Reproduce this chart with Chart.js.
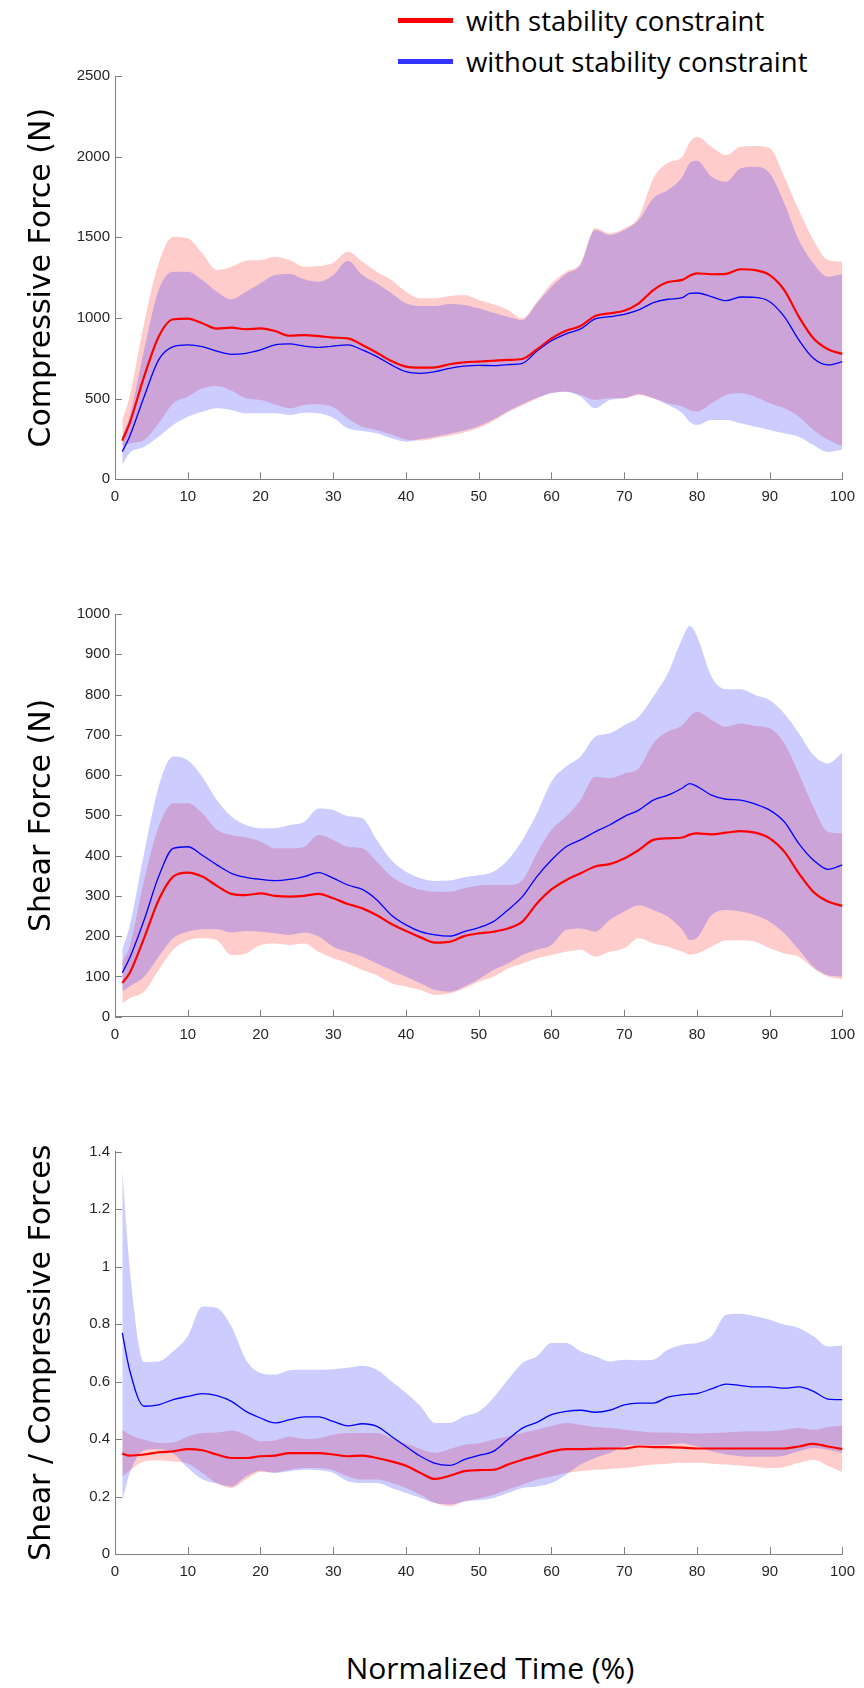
<!DOCTYPE html>
<html>
<head>
<meta charset="utf-8">
<script src="https://cdn.jsdelivr.net/npm/chart.js@4.4.1/dist/chart.umd.min.js"></script>
<style>
  body { margin: 0; background: #fff; width: 864px; height: 1688px; position: relative; overflow: hidden; }
  canvas { position: absolute; left: 0; }
  .legend-row { position: absolute; left: 398px; height: 34px; display: flex; align-items: center; font-family: "Open Sans", sans-serif; font-size: 27.5px; color: #000; white-space: nowrap; }
  .legend-row span.swatch { display: inline-block; width: 55px; height: 5px; margin-right: 13px; }
  #xlabel { position: absolute; left: 240px; width: 500px; top: 1646px; text-align: center; font-family: "Open Sans", sans-serif; font-size: 30px; line-height: 44px; color: #000; }
</style>
</head>
<body>
<div class="legend-row" style="top:3px"><span class="swatch" style="background:#ff0000"></span>with stability constraint</div>
<div class="legend-row" style="top:44px"><span class="swatch" style="background:#3333ff"></span>without stability constraint</div>
<canvas id="c1" width="864" height="520" style="top:0px"></canvas>
<canvas id="c2" width="864" height="500" style="top:560px"></canvas>
<canvas id="c3" width="864" height="500" style="top:1100px"></canvas>
<div id="xlabel">Normalized Time (%)</div>
<script>
// normalized time (%) sample points
const TIME = [1, 2, 4, 6, 8, 10, 12, 14, 16, 18, 20, 22, 24, 26, 28, 30, 32, 34, 36, 38, 40,
  42, 44, 46, 48, 50, 52, 54, 56, 58, 60, 62, 64, 66, 68, 70, 72, 74, 76, 78, 79, 80,
  82, 84, 86, 88, 90, 92, 94, 96, 98, 100];

const X_TICKS = [0, 10, 20, 30, 40, 50, 60, 70, 80, 90, 100];

// compressive force (N)
const COMP_WITH_MEAN = [240, 347, 636, 884, 992, 996, 967, 934, 940, 930, 936, 919, 890, 894, 888, 878, 874, 833, 785, 733, 698,
  692, 694, 713, 725, 730, 735, 740, 746, 805, 874, 921, 950, 1012, 1029, 1045, 1091, 1173, 1223, 1236, 1262, 1277,
  1271, 1273, 1302, 1297, 1266, 1173, 1008, 874, 806, 777];
const COMP_WITH_HI = [368, 512, 967, 1339, 1504, 1494, 1401, 1297, 1318, 1355, 1359, 1380, 1359, 1318, 1322, 1343, 1411, 1349, 1287, 1235, 1163,
  1122, 1122, 1136, 1142, 1111, 1085, 1050, 998, 1101, 1215, 1287, 1339, 1556, 1525, 1556, 1628, 1866, 1963, 2000, 2090, 2124,
  2062, 2010, 2062, 2066, 2052, 1876, 1669, 1483, 1359, 1349];
const COMP_WITH_LO = [202, 223, 244, 347, 471, 512, 564, 579, 550, 502, 492, 465, 440, 461, 465, 446, 378, 326, 306, 278, 246,
  240, 255, 270, 290, 318, 362, 414, 458, 500, 537, 543, 523, 492, 502, 502, 523, 502, 471, 450, 430, 419,
  471, 523, 533, 512, 471, 440, 388, 306, 245, 205];
const COMP_WITHOUT_MEAN = [171, 264, 512, 740, 822, 833, 822, 795, 775, 781, 802, 833, 839, 826, 818, 826, 833, 802, 760, 709, 667,
  657, 667, 688, 702, 706, 705, 711, 719, 795, 859, 901, 932, 994, 1008, 1023, 1050, 1095, 1116, 1126, 1152, 1155,
  1132, 1107, 1130, 1128, 1101, 1008, 864, 750, 709, 729];
const COMP_WITHOUT_HI = [270, 388, 802, 1173, 1287, 1287, 1235, 1163, 1116, 1163, 1215, 1266, 1273, 1240, 1225, 1266, 1355, 1266, 1215, 1153, 1091,
  1074, 1074, 1087, 1081, 1060, 1033, 1008, 988, 1091, 1194, 1273, 1330, 1545, 1514, 1545, 1607, 1742, 1793, 1876, 1960, 1975,
  1876, 1845, 1928, 1938, 1897, 1711, 1483, 1339, 1256, 1273];
const COMP_WITHOUT_LO = [89, 161, 202, 264, 337, 388, 419, 440, 430, 409, 409, 409, 399, 413, 409, 380, 316, 300, 285, 254, 233,
  250, 264, 283, 303, 330, 370, 422, 465, 505, 533, 543, 512, 440, 492, 502, 529, 502, 461, 409, 355, 337,
  368, 368, 347, 326, 306, 285, 264, 213, 170, 185];
const COMP_TICKS = [0, 500, 1000, 1500, 2000, 2500];

// shear force (N)
const SHEAR_WITH_MEAN = [84, 108, 195, 290, 348, 358, 348, 325, 305, 302, 306, 300, 298, 300, 305, 294, 280, 269, 252, 230, 213,
  197, 184, 186, 200, 207, 211, 219, 236, 281, 316, 339, 356, 373, 379, 393, 414, 439, 443, 445, 452, 455,
  453, 457, 461, 457, 443, 410, 356, 310, 286, 275];
const SHEAR_WITH_HI = [137, 174, 339, 472, 530, 530, 505, 464, 451, 445, 435, 418, 418, 422, 451, 439, 422, 418, 385, 348, 327,
  315, 310, 310, 319, 326, 327, 327, 339, 406, 464, 497, 538, 596, 592, 604, 617, 679, 708, 724, 745, 757,
  737, 720, 728, 722, 716, 679, 604, 521, 459, 455];
const SHEAR_WITH_LO = [33, 46, 62, 116, 166, 190, 195, 190, 153, 157, 178, 182, 178, 182, 161, 145, 132, 116, 103, 83, 75,
  66, 54, 58, 70, 87, 99, 120, 132, 145, 153, 161, 166, 149, 161, 170, 195, 182, 174, 161, 154, 157,
  174, 190, 190, 186, 170, 157, 149, 120, 100, 93];
const SHEAR_WITHOUT_MEAN = [109, 145, 240, 348, 418, 422, 401, 377, 356, 346, 341, 338, 341, 348, 358, 344, 327, 316, 290, 252, 228,
  211, 203, 200, 211, 221, 236, 265, 298, 348, 389, 422, 439, 459, 476, 497, 513, 538, 550, 568, 579, 572,
  550, 540, 538, 528, 513, 484, 430, 389, 366, 377];
const SHEAR_WITHOUT_HI = [166, 224, 406, 571, 646, 637, 596, 538, 497, 476, 468, 468, 476, 484, 517, 513, 498, 493, 439, 389, 360,
  344, 337, 338, 346, 351, 360, 389, 439, 505, 584, 621, 646, 695, 704, 724, 745, 795, 853, 940, 970, 945,
  844, 813, 813, 799, 786, 753, 704, 650, 629, 656];
const SHEAR_WITHOUT_LO = [62, 75, 99, 149, 195, 211, 217, 217, 209, 213, 211, 207, 203, 209, 199, 174, 161, 149, 132, 116, 99,
  83, 66, 62, 75, 93, 116, 132, 153, 166, 178, 215, 219, 211, 240, 261, 277, 265, 248, 215, 190, 196,
  252, 265, 261, 252, 236, 207, 166, 124, 103, 99];
const SHEAR_TICKS = [0, 100, 200, 300, 400, 500, 600, 700, 800, 900, 1000];

// shear / compressive ratio
const RATIO_WITH_MEAN = [0.349, 0.342, 0.346, 0.354, 0.357, 0.365, 0.361, 0.346, 0.334, 0.334, 0.340, 0.342, 0.351, 0.351, 0.351, 0.346, 0.340, 0.342, 0.334, 0.322, 0.307,
  0.282, 0.261, 0.272, 0.288, 0.292, 0.293, 0.311, 0.328, 0.342, 0.357, 0.365, 0.365, 0.366, 0.367, 0.367, 0.374, 0.372, 0.372, 0.370, 0.368, 0.367,
  0.367, 0.367, 0.367, 0.367, 0.367, 0.367, 0.374, 0.383, 0.374, 0.365];
const RATIO_WITH_HI = [0.432, 0.415, 0.398, 0.386, 0.388, 0.409, 0.421, 0.423, 0.430, 0.415, 0.392, 0.395, 0.409, 0.400, 0.403, 0.415, 0.421, 0.421, 0.421, 0.403, 0.384,
  0.365, 0.351, 0.365, 0.380, 0.385, 0.398, 0.409, 0.421, 0.432, 0.446, 0.456, 0.450, 0.442, 0.438, 0.432, 0.427, 0.423, 0.423, 0.421, 0.420, 0.419,
  0.421, 0.423, 0.426, 0.427, 0.427, 0.432, 0.438, 0.432, 0.442, 0.446];
const RATIO_WITH_LO = [0.270, 0.290, 0.322, 0.326, 0.322, 0.315, 0.282, 0.247, 0.230, 0.259, 0.285, 0.284, 0.293, 0.299, 0.299, 0.291, 0.270, 0.259, 0.259, 0.247, 0.230,
  0.206, 0.177, 0.166, 0.183, 0.193, 0.206, 0.224, 0.241, 0.259, 0.270, 0.282, 0.288, 0.293, 0.296, 0.299, 0.305, 0.311, 0.314, 0.317, 0.317, 0.317,
  0.314, 0.311, 0.307, 0.303, 0.299, 0.303, 0.317, 0.328, 0.307, 0.284];
const RATIO_WITHOUT_MEAN = [0.769, 0.641, 0.514, 0.519, 0.537, 0.548, 0.558, 0.551, 0.531, 0.496, 0.473, 0.456, 0.467, 0.477, 0.477, 0.461, 0.446, 0.453, 0.444, 0.409, 0.374,
  0.340, 0.315, 0.308, 0.328, 0.343, 0.357, 0.398, 0.438, 0.458, 0.485, 0.496, 0.500, 0.493, 0.500, 0.519, 0.525, 0.525, 0.546, 0.554, 0.556, 0.558,
  0.574, 0.591, 0.586, 0.581, 0.581, 0.577, 0.581, 0.566, 0.539, 0.537];
const RATIO_WITHOUT_HI = [1.337, 1.000, 0.668, 0.670, 0.705, 0.757, 0.861, 0.856, 0.792, 0.676, 0.630, 0.624, 0.639, 0.641, 0.641, 0.643, 0.648, 0.655, 0.641, 0.601, 0.560,
  0.514, 0.456, 0.456, 0.479, 0.496, 0.543, 0.606, 0.664, 0.688, 0.734, 0.734, 0.705, 0.688, 0.670, 0.676, 0.674, 0.676, 0.711, 0.728, 0.731, 0.734,
  0.757, 0.832, 0.836, 0.827, 0.815, 0.798, 0.786, 0.757, 0.722, 0.725];
const RATIO_WITHOUT_LO = [0.183, 0.280, 0.360, 0.365, 0.350, 0.300, 0.260, 0.245, 0.235, 0.270, 0.290, 0.282, 0.288, 0.293, 0.291, 0.282, 0.253, 0.247, 0.247, 0.230, 0.212,
  0.195, 0.177, 0.172, 0.183, 0.187, 0.195, 0.212, 0.230, 0.235, 0.247, 0.276, 0.311, 0.334, 0.351, 0.374, 0.380, 0.377, 0.380, 0.385, 0.380, 0.375,
  0.357, 0.346, 0.340, 0.338, 0.338, 0.342, 0.357, 0.369, 0.363, 0.351];
const RATIO_TICKS = [0, 0.2, 0.4, 0.6, 0.8, 1, 1.2, 1.4];
const RATIO_TICK_LABELS = ['0', '0.2', '0.4', '0.6', '0.8', '1', '1.2', '1.4'];

const AXIS_COLOR = '#808080';
const TEXT_COLOR = '#262626';

const pts = arr => arr.map((v, i) => ({ x: TIME[i], y: v }));

// MATLAB style ticks pointing into the plot
const inwardTicks = {
  id: 'inwardTicks',
  afterDraw(chart) {
    const { ctx, chartArea: a, scales: { x, y } } = chart;
    ctx.save();
    ctx.strokeStyle = AXIS_COLOR;
    ctx.lineWidth = 1;
    ctx.beginPath();
    x.ticks.forEach(t => {
      const px = Math.round(x.getPixelForValue(t.value)) + 0.5;
      ctx.moveTo(px, a.bottom);
      ctx.lineTo(px, a.bottom - 7);
    });
    y.ticks.forEach(t => {
      const py = Math.round(y.getPixelForValue(t.value)) + 0.5;
      ctx.moveTo(a.left, py);
      ctx.lineTo(a.left + 7, py);
    });
    ctx.stroke();
    ctx.restore();
  }
};

function makeChart(id, cfg) {
  const band = (data, color) => ({
    data: pts(data), borderWidth: 0, pointRadius: 0, backgroundColor: color,
    cubicInterpolationMode: 'monotone'
  });
  const line = (data, color, w) => ({
    data: pts(data), borderColor: color, borderWidth: w, pointRadius: 0, fill: false,
    cubicInterpolationMode: 'monotone'
  });
  const datasets = [
    line(cfg.withMean, '#ff0000', 2.2),
    line(cfg.withoutMean, '#0000ff', 1.3),
    Object.assign(band(cfg.withoutLo, 'rgba(0,0,255,0.2)'), { fill: false }),
    Object.assign(band(cfg.withoutHi, 'rgba(0,0,255,0.2)'), { fill: '-1' }),
    Object.assign(band(cfg.withLo, 'rgba(255,0,0,0.2)'), { fill: false }),
    Object.assign(band(cfg.withHi, 'rgba(255,0,0,0.2)'), { fill: '-1' })
  ];

  return new Chart(document.getElementById(id), {
    type: 'line',
    data: { datasets },
    plugins: [inwardTicks],
    options: {
      responsive: false,
      animation: false,
      devicePixelRatio: 1,
      layout: { padding: { top: cfg.padTop, right: 19, left: 0, bottom: 0 } },
      plugins: {
        legend: { display: false },
        tooltip: { enabled: false },
        filler: { drawTime: 'beforeDatasetsDraw' }
      },
      scales: {
        x: {
          type: 'linear', min: 0, max: 100,
          afterBuildTicks: s => { s.ticks = X_TICKS.map(v => ({ value: v })); },
          afterFit: s => { s.height = cfg.xHeight; },
          grid: { display: true, drawOnChartArea: false, drawTicks: false },
          border: { color: AXIS_COLOR, width: 1 },
          ticks: { padding: 9, color: TEXT_COLOR, font: { family: 'Liberation Sans', size: 15 }, maxRotation: 0 }
        },
        y: {
          type: 'linear', min: cfg.ticks[0], max: cfg.ticks[cfg.ticks.length - 1],
          afterBuildTicks: s => { s.ticks = cfg.ticks.map(v => ({ value: v })); },
          afterFit: s => { s.width = 115; },
          grid: { display: true, drawOnChartArea: false, drawTicks: false },
          border: { color: AXIS_COLOR, width: 1 },
          ticks: {
            padding: 5, color: TEXT_COLOR, font: { family: 'Liberation Sans', size: 15 },
            callback: (v, i) => cfg.labels ? cfg.labels[i] : String(v)
          },
          title: {
            display: true, text: cfg.title, color: '#000',
            font: { family: 'DejaVu Sans', size: 30 }, padding: { top: 24, bottom: 0 }
          }
        }
      }
    }
  });
}

makeChart('c1', {
  withMean: COMP_WITH_MEAN, withHi: COMP_WITH_HI, withLo: COMP_WITH_LO,
  withoutMean: COMP_WITHOUT_MEAN, withoutHi: COMP_WITHOUT_HI, withoutLo: COMP_WITHOUT_LO,
  ticks: COMP_TICKS, title: 'Compressive Force (N)', padTop: 76, xHeight: 40.7
});
makeChart('c2', {
  withMean: SHEAR_WITH_MEAN, withHi: SHEAR_WITH_HI, withLo: SHEAR_WITH_LO,
  withoutMean: SHEAR_WITHOUT_MEAN, withoutHi: SHEAR_WITHOUT_HI, withoutLo: SHEAR_WITHOUT_LO,
  ticks: SHEAR_TICKS, title: 'Shear Force (N)', padTop: 54, xHeight: 43.3
});
makeChart('c3', {
  withMean: RATIO_WITH_MEAN, withHi: RATIO_WITH_HI, withLo: RATIO_WITH_LO,
  withoutMean: RATIO_WITHOUT_MEAN, withoutHi: RATIO_WITHOUT_HI, withoutLo: RATIO_WITHOUT_LO,
  ticks: RATIO_TICKS, labels: RATIO_TICK_LABELS, title: 'Shear / Compressive Forces', padTop: 51.5, xHeight: 46
});
</script>
</body>
</html>
